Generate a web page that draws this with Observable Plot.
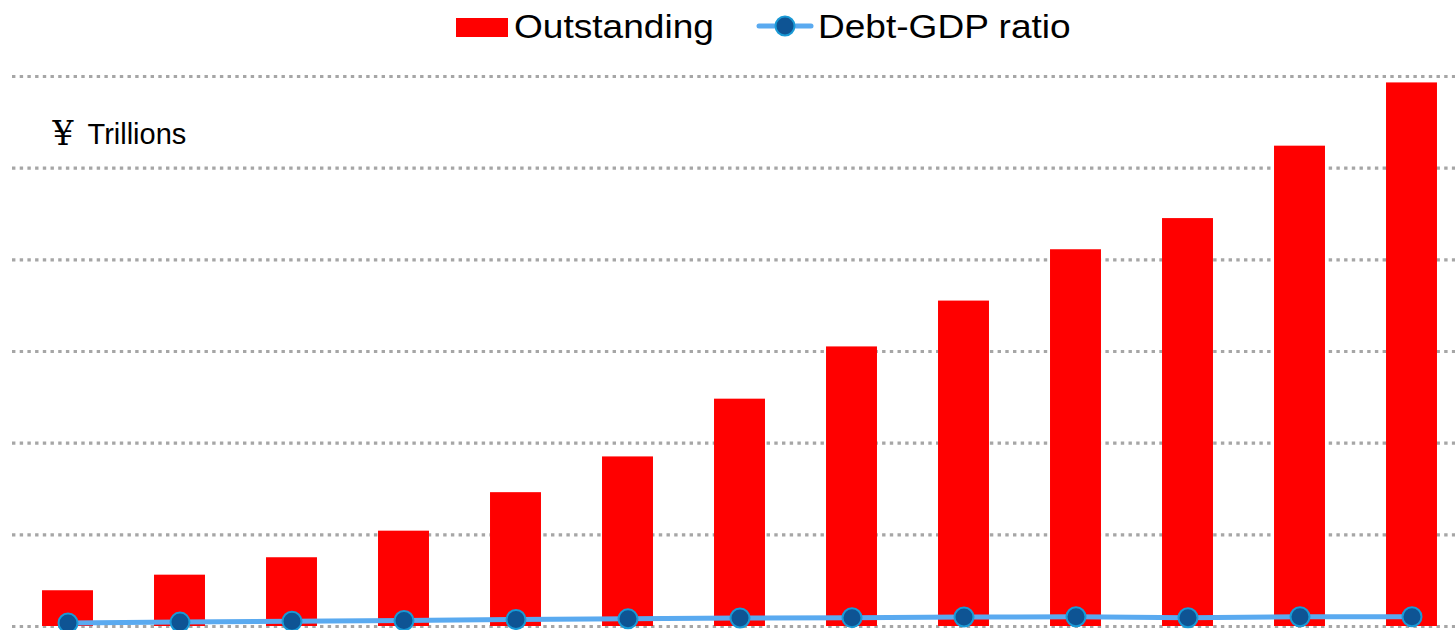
<!DOCTYPE html>
<html>
<head>
<meta charset="utf-8">
<script src="https://cdn.jsdelivr.net/npm/d3@7"></script>
<script src="https://cdn.jsdelivr.net/npm/@observablehq/plot@0.6"></script>
<style>
  html, body { margin: 0; padding: 0; background: #ffffff; }
  #wrap { width: 1455px; font-family: "Liberation Sans", Arial, "Noto Sans CJK SC", sans-serif; }
  #legend { position: relative; height: 55px; width: 1455px; }
  #legend .sw { position: absolute; left: 456px; top: 18px; width: 52px; height: 19px; background: #ff0000; }
  #legend .lab { position: absolute; top: 8.5px; font-size: 34px; line-height: 34px; color: #000;
                 white-space: nowrap; transform: scaleX(1.09); transform-origin: left center; }
  #legend svg { position: absolute; left: 757px; top: 16px; overflow: visible; }
</style>
</head>
<body>
<div id="wrap">
  <div id="legend">
    <div class="sw"></div>
    <div class="lab" style="left:514px">Outstanding</div>
    <svg width="56" height="20">
      <line x1="2" y1="10" x2="54" y2="10" stroke="#5aaaf0" stroke-width="5" stroke-linecap="round"></line>
      <circle cx="28" cy="10" r="9.5" fill="#0e5494" stroke="#1a9ad6" stroke-width="2"></circle>
    </svg>
    <div class="lab" style="left:818px">Debt-GDP ratio</div>
  </div>
  <div id="chart"></div>
</div>
<script>
// Categories (no visible labels in the reference)
const years = [2010, 2011, 2012, 2013, 2014, 2015, 2016, 2017, 2018, 2019, 2020, 2021, 2022];
// Outstanding, ¥ trillions (grid step 10)
const outstanding = [3.9, 5.6, 7.5, 10.4, 14.6, 18.5, 24.8, 30.5, 35.5, 41.1, 44.5, 52.4, 59.3];
// Debt-GDP ratio, plotted on same axis
const ratio = [0.38, 0.48, 0.58, 0.65, 0.76, 0.84, 0.93, 0.96, 1.04, 1.06, 0.95, 1.06, 1.06];
// Gridline values (unlabelled)
const gridTicks = [0, 10, 20, 30, 40, 50, 60];
const unitSymbol = ["\u00A5"];
const unitText = ["Trillions"];

const data = years.map((year, i) => ({year, outstanding: outstanding[i], ratio: ratio[i]}));

const chart = Plot.plot({
  width: 1455,
  height: 575,
  marginTop: 21,
  marginBottom: 4,
  marginLeft: 12,
  marginRight: 0,
  style: {fontFamily: "\"Liberation Sans\", Arial, \"Noto Sans CJK SC\", sans-serif", background: "#ffffff"},
  x: {type: "band", domain: years, range: [11.5, 1467.5], paddingInner: 0.545, paddingOuter: 0.2725, round: false, axis: null},
  y: {domain: [0, 60], axis: null},
  marks: [
    Plot.ruleY(gridTicks, {stroke: "#a6a6a6", strokeWidth: 3.2, strokeDasharray: "3.4,4.3", strokeOpacity: 1}),
    Plot.barY(data, {x: "year", y: "outstanding", fill: "#ff0000"}),
    Plot.line(data, {x: "year", y: "ratio", stroke: "#5aaaf0", strokeWidth: 5, curve: "linear"}),
    Plot.dot(data, {x: "year", y: "ratio", r: 9.5, fill: "#0e5494", stroke: "#1a9ad6", strokeWidth: 2}),
    Plot.text(unitSymbol, {frameAnchor: "top-left", textAnchor: "start", lineAnchor: "middle", dx: 40, dy: 58, fontSize: 33, fontFamily: "\"DejaVu Serif\", serif", fill: "#000"}),
    Plot.text(unitText, {frameAnchor: "top-left", textAnchor: "start", lineAnchor: "middle", dx: 75, dy: 58, fontSize: 29, fill: "#000"})
  ]
});
document.getElementById("chart").appendChild(chart);
</script>
</body>
</html>
